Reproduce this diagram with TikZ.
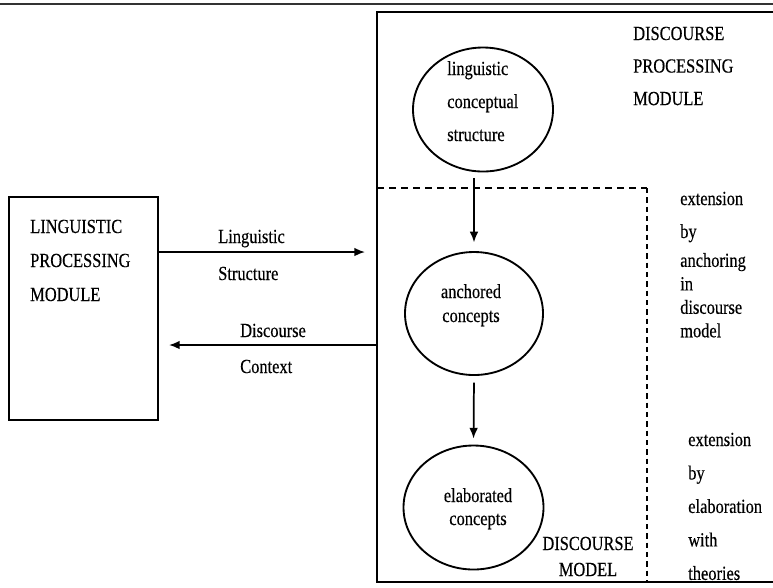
\documentclass[tikz,border=0pt]{standalone}
\usepackage{fontspec}
\setmainfont[FakeStretch=0.82,FakeBold=0.35]{Liberation Serif}
\usetikzlibrary{arrows.meta,shapes.geometric}
\newcommand{\stackL}[2]{\parbox[t]{5cm}{\raggedright\baselineskip=#1\relax #2}}
\newcommand{\stackC}[2]{\parbox[t]{5cm}{\centering\baselineskip=#1\relax #2}}
\begin{document}
\begin{tikzpicture}[x=0.75pt,y=-0.75pt,
  txt/.style={font=\fontsize{15pt}{18pt}\selectfont, inner sep=0pt, anchor=base west},
  ctxt/.style={txt, anchor=base},
  boxline/.style={line width=1.7pt},
  ell/.style={draw, ellipse, line width=1.4pt, minimum width=105pt, minimum height=93pt, inner sep=0pt},
  arr/.style={-{Latex[length=8pt,width=6.5pt]}, line width=1.3pt},
  dashh/.style={line width=1.4pt, dash pattern=on 5.5pt off 3.5pt},
  dashv/.style={line width=1.4pt, dash pattern=on 4pt off 3pt}]
\useasboundingbox (0,0) rectangle (773,587);
% top rule
\draw[boxline, black!80] (0,4) -- (773,4);
% discourse processing module box (right side outside the frame)
\coordinate (dpmTR) at (773,12);
\coordinate (dpmTL) at (377,12);
\coordinate (dpmBL) at (377,582);
\coordinate (dpmBR) at (773,582);
\draw[boxline] (dpmTR) -- (dpmTL) -- (dpmBL) -- (dpmBR);
% discourse model dashed region
\coordinate (dmTL) at (377,188);
\coordinate (dmTR) at (647,188);
\coordinate (dmBR) at (647,582);
\draw[dashh] (dmTL) -- (dmTR);
\draw[dashv] (dmTR) -- (dmBR);
% linguistic processing module box
\node[draw, boxline, rectangle, inner sep=0pt, anchor=north west,
      minimum width=111.75pt, minimum height=167.25pt] (lpm) at (8,196) {};
% ellipses
\node[ell] (lcs) at (483,109.5) {};
\node[ell, minimum width=103.5pt, minimum height=92.25pt] (anc) at (474,313.5) {};
\node[ell] (ela) at (473.5,507.5) {};
% texts
\node[txt] (lpmt) at (30,233) {\stackL{25.5pt}{LINGUISTIC\\PROCESSING\\MODULE}};
\node[txt] (dpmt) at (633,40) {\stackL{24.4pt}{DISCOURSE\\PROCESSING\\MODULE}};
\node[txt] (lcst) at (447,75) {\stackL{24.75pt}{linguistic\\conceptual\\structure}};
\node[ctxt] (anct) at (471,298) {\stackC{18pt}{anchored\\concepts}};
\node[ctxt] (elat) at (478,502) {\stackC{17.25pt}{elaborated\\concepts}};
\node[ctxt] (dmt) at (588,550) {\stackC{19.5pt}{DISCOURSE\\MODEL}};
\node[txt] (lst) at (218,243) {\stackL{27.75pt}{Linguistic\\Structure}};
\node[txt] (dct) at (240,337) {\stackL{27pt}{Discourse\\Context}};
\node[txt] (ext1) at (680,205) {\stackL{17.6pt}{extension\\[7.1pt]by\\[4.1pt]anchoring\\in\\discourse\\model}};
\node[txt] (ext2) at (688,446) {\stackL{25.1pt}{extension\\by\\elaboration\\with\\theories}};
% connectors
\coordinate (lsEnd) at (365,252);
\draw[arr] (lpm.east |- lsEnd) -- (lsEnd);
\coordinate (dcStart) at (377,345);
\coordinate (dcEnd) at (169,345);
\draw[arr] (dcStart) -- (dcEnd);
\draw[arr, shorten <=4pt, shorten >=6.5pt] (anc.north |- lcs.south) -- (anc.north);
\draw[arr, shorten <=5pt, shorten >=4.5pt] (anc.south) -- (ela.north);
\end{tikzpicture}
\end{document}
